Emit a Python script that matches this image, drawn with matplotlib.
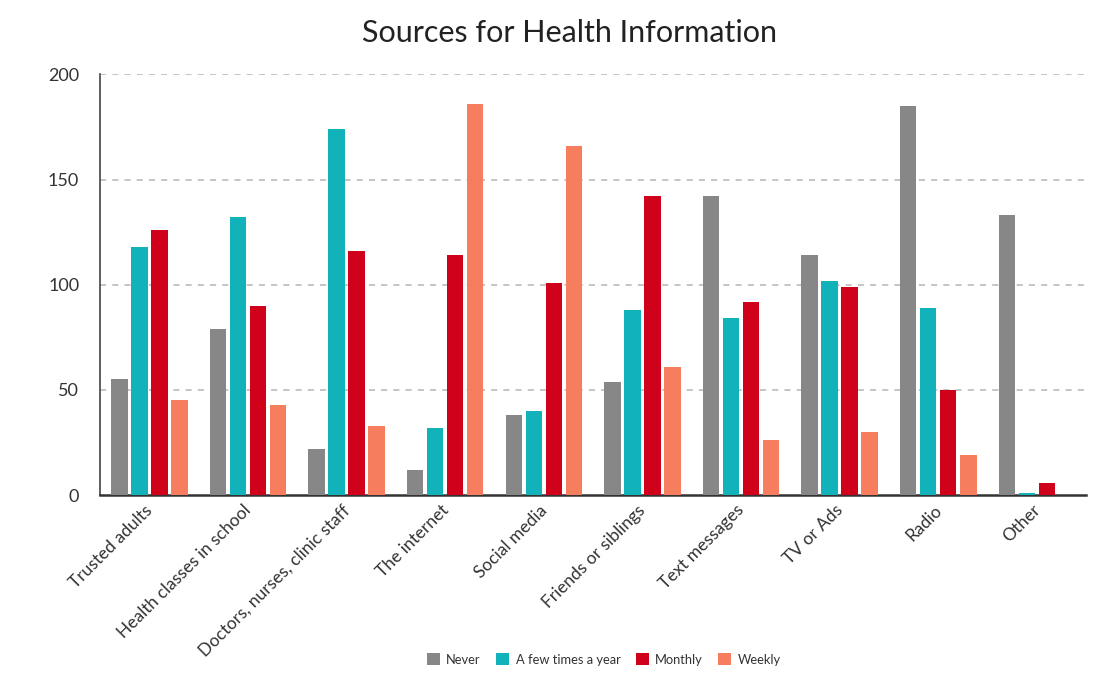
import numpy as np
import matplotlib.pyplot as plt

sources = ['Trusted adults', 'Health classes in school', 'Doctors, nurses, clinic staff',
           'The internet', 'Social media', 'Friends or siblings', 'Text messages',
           'TV or Ads', 'Radio', 'Other']
series = ['Never', 'A few times a year', 'Monthly', 'Weekly']
never = [55, 79, 22, 12, 38, 54, 142, 114, 185, 133]
few_times = [118, 132, 174, 32, 40, 88, 84, 102, 89, 1]
monthly = [126, 90, 116, 114, 101, 142, 92, 99, 50, 6]
weekly = [45, 43, 33, 186, 166, 61, 26, 30, 19, 0]
colors = ['#878787', '#12b2bb', '#d0021b', '#f67d5e']

plt.rcParams['font.family'] = ['Lato', 'DejaVu Sans']

fig = plt.figure(figsize=(11.08, 6.82), dpi=100)
ax = fig.add_axes([0.0903, 0.274, 0.890, 0.617])

x = np.arange(len(sources))
step = 0.203
width = 0.167
for i, (vals, name) in enumerate(zip([never, few_times, monthly, weekly], series)):
    ax.bar(x + (i - 1.5) * step, vals, width, color=colors[i], label=name, zorder=3)

ax.set_xlim(-0.5, len(sources) - 0.5)
ax.set_ylim(0, 200)
ax.set_yticks([0, 50, 100, 150, 200])
ax.tick_params(axis='y', length=0, pad=15, labelsize=13, labelcolor='#333333')
ax.tick_params(axis='x', length=0, pad=5)
ax.set_xticks(x - 0.05)
ax.set_xticklabels(sources, rotation=45, ha='right', rotation_mode='anchor',
                   fontsize=12.5, color='#333333')

for v in [50, 100, 150, 200]:
    ax.axhline(v, color='#b5b5b5', lw=1.1, ls=(0, (4, 4)), zorder=1)

for s in ['top', 'right']:
    ax.spines[s].set_visible(False)
ax.spines['left'].set_color('#444444')
ax.spines['bottom'].set_color('#333333')
ax.spines['left'].set_linewidth(1.2)
ax.spines['bottom'].set_linewidth(1.8)

fig.text(0.514, 0.952, 'Sources for Health Information', ha='center', va='center',
         fontsize=22, color='#222222')

fig.legend(loc='center', bbox_to_anchor=(0.545, 0.033), ncol=4, frameon=False,
           fontsize=9.3, handlelength=1.0, handleheight=1.0, handletextpad=0.5,
           columnspacing=1.2, labelcolor='#333333')

fig.savefig('out.png', dpi=100, facecolor='white')
